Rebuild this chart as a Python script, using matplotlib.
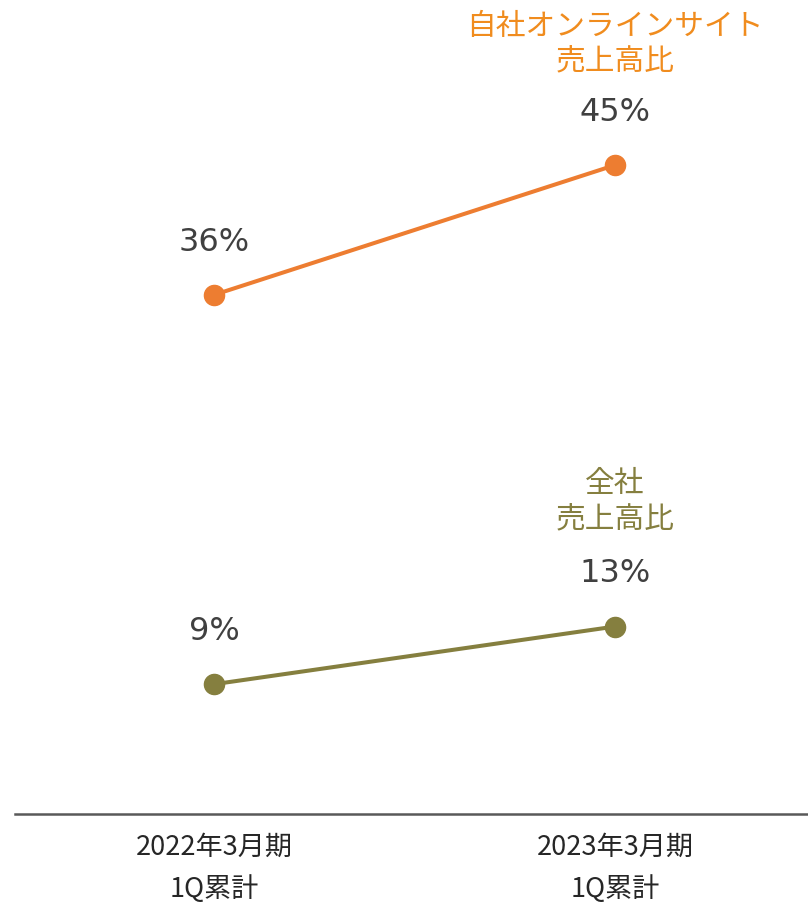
import matplotlib.pyplot as plt

plt.rcParams['font.family'] = ['DejaVu Sans', 'Noto Sans CJK JP']

# data
periods = ["2022年3月期\n1Q累計", "2023年3月期\n1Q累計"]
online_ratio = [36, 45]
company_ratio = [9, 13]
online_name = "自社オンラインサイト\n売上高比"
company_name = "全社\n売上高比"

orange = '#ED7D31'
orange_text = '#F08C1E'
olive = '#857F3F'
value_color = '#404040'

fig = plt.figure(figsize=(8.08, 9.14), dpi=100)
ax = fig.add_axes([15 / 808, 100 / 914, 793 / 808, 814 / 914])

x = list(range(len(periods)))
series = [(online_ratio, orange, orange_text, online_name, 87),
          (company_ratio, olive, olive, company_name, 90)]

for values, color, tcolor, name, name_off in series:
    ax.plot(x, values, color=color, lw=2.9, marker='o', markersize=14.5,
            solid_capstyle='round', clip_on=False)
    for xi, v in zip(x, values):
        ax.annotate(f"{v}%", (xi, v), xytext=(0, 38), textcoords='offset points',
                    ha='center', va='center', fontsize=23, color=value_color)
    ax.annotate(name, (x[-1], values[-1]), xytext=(0, name_off),
                textcoords='offset points', ha='center', va='center',
                fontsize=21.4, color=tcolor, family='Noto Sans CJK JP',
                linespacing=1.2)

ax.set_xlim(-199 / 401, 594 / 401)
ax.set_ylim(0, 814 / 14.42)

for side in ['top', 'right', 'left']:
    ax.spines[side].set_visible(False)
ax.spines['bottom'].set_color('#595959')
ax.spines['bottom'].set_linewidth(1.8)
ax.set_yticks([])
ax.set_xticks(x)
ax.set_xticklabels(periods, fontsize=19.5, color='#262626',
                   family='Noto Sans CJK JP', linespacing=1.68)
ax.tick_params(axis='x', length=0, pad=14)

plt.savefig("out.png", dpi=100)
